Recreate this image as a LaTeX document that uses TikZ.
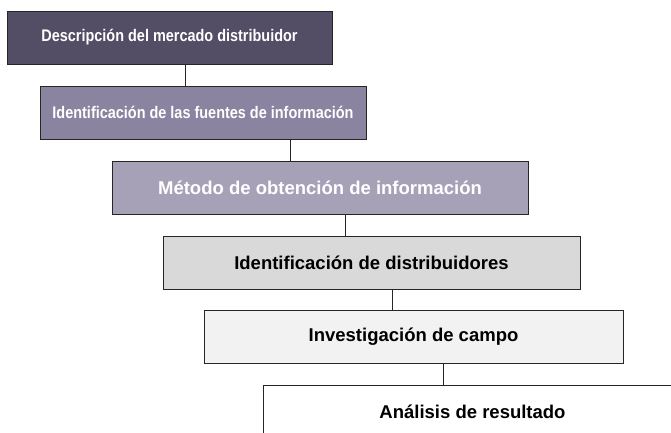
\documentclass[tikz,border=0pt]{standalone}
\usepackage{fontspec}
\setmainfont{Liberation Sans}
\newfontfamily\narrowfont{Liberation Sans}[FakeStretch=0.86]
\usetikzlibrary{positioning}

\definecolor{stageA}{HTML}{534D66}
\definecolor{stageB}{HTML}{8A84A0}
\definecolor{stageC}{HTML}{A7A1B8}
\definecolor{stageD}{HTML}{D9D9D9}
\definecolor{stageE}{HTML}{F2F2F2}
\definecolor{edge}{HTML}{262626}

\begin{document}
\begin{tikzpicture}[
        x = 1pt, y = -1pt,
        every node/.style = {inner sep = 0pt, outer sep = 0pt},
        stage/.style = {draw = edge, line width = 0.8pt, anchor = north west,
                        minimum height = 53pt, font = \bfseries\fontsize{18.5}{20}\selectfont},
        narrow/.style = {font = \bfseries\narrowfont\fontsize{16.8}{20}\selectfont},
        link/.style = {draw = edge, line width = 0.8pt}
    ]
    \clip (0,0) rectangle (671,433);
    \fill[white] (0,0) rectangle (671,433);

      \node[stage, narrow, fill = stageA, text = white, minimum width = 325pt] (desc) at (7,11) {Descripción del mercado distribuidor};
      \node[stage, narrow, fill = stageB, text = white, minimum width = 326pt] (fuentes) at (40,86) {Identificación de las fuentes de información};
      \node[stage, fill = stageC, text = white, minimum width = 416pt] (metodo) at (112,161) {Método de obtención de información};
      \node[stage, fill = stageD, minimum width = 417pt] (distrib) at (163,236) {Identificación de distribuidores};
      \node[stage, fill = stageE, minimum width = 419pt] (campo) at (204,310) {Investigación de campo};
      \node[stage, fill = white, minimum width = 419pt] (analisis) at (263,385) {Análisis de resultado};

      \path[link]
        ([xshift = 16pt]desc.south) -- ([xshift = 16pt]desc.south |- fuentes.north)
        ([xshift = 87pt]fuentes.south) -- ([xshift = 87pt]fuentes.south |- metodo.north)
        ([xshift = 25pt]metodo.south) -- ([xshift = 25pt]metodo.south |- distrib.north)
        ([xshift = 20.5pt]distrib.south) -- ([xshift = 20.5pt]distrib.south |- campo.north)
        ([xshift = 29.5pt]campo.south) -- ([xshift = 29.5pt]campo.south |- analisis.north);
    \end{tikzpicture}
\end{document}
